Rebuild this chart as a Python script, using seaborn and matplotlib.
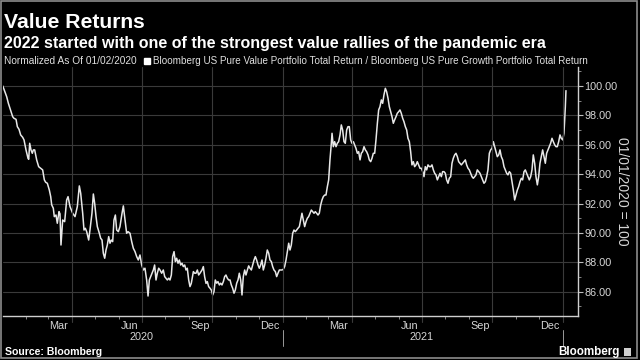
import pandas as pd
import matplotlib
matplotlib.use("Agg")
import matplotlib.pyplot as plt
import matplotlib.dates as mdates
from matplotlib.ticker import FormatStrFormatter, MultipleLocator
from matplotlib.lines import Line2D
from matplotlib.patches import Rectangle
from matplotlib import font_manager
import seaborn as sns

# value / growth total return ratio
# days = days after 01/01/2020
days_q1_2020 = [1, 6.1, 8.3, 10.4, 12.6, 13.9, 15.6, 18.3, 20.0, 22.2,
                24.3, 26.9, 28.7, 31.3, 33.9, 34.8, 36.1, 37.8, 39.5, 40.9,
                42.6, 43.9, 45.2, 47.8, 50.4, 53.0, 55.2, 56.9, 59.1, 61.7,
                63.5, 64.8, 66.9, 68.2, 70.4, 72.1, 74.3]
ratio_q1_2020 = [100.00, 99.27, 98.82, 98.48, 98.14, 97.91, 97.80, 97.73, 97.23, 97.05,
                 96.67, 96.51, 96.33, 95.65, 95.08, 95.01, 96.10, 95.65, 95.42, 95.65,
                 95.65, 95.31, 94.97, 94.51, 94.40, 94.29, 93.61, 93.45, 93.38, 92.92,
                 92.47, 91.91, 91.68, 91.11, 91.22, 90.66, 91.45]

days_mid_2020 = [75.6, 76.9, 79.1, 81.7, 84.3, 86.1, 88.7, 92.1, 95.2, 98.2,
                 100.8, 102.6, 105.2, 106.9, 108.6, 110.4, 113.0, 114.7, 117.3, 119.1,
                 120.8, 122.6, 124.3, 126.9, 128.6, 130.4, 132.1, 133.9, 135.6, 137.3,
                 139.1, 140.8, 142.5, 144.3, 146.0, 147.8, 149.5, 151.7, 153.8, 156.5,
                 158.2, 159.9, 162.5, 164.3, 166.9, 169.1, 171.2, 173.4, 175.6, 177.7,
                 179.9, 182.1, 184.3, 186.4, 188.6, 190.4, 192.1, 193.8, 195.6, 197.3,
                 199.0, 200.8, 202.5, 204.3, 206.0, 208.2, 210.3, 212.1, 213.8, 215.6,
                 217.3, 219.0, 220.8, 222.5, 224.3, 226.0, 227.7, 229.5, 231.2, 233.0,
                 234.7, 236.4, 238.2, 239.9, 241.6, 243.4, 245.1, 246.8, 249.5, 251.2,
                 252.9, 254.7, 256.4, 258.1, 260.8, 262.5, 264.2, 266.0, 267.7, 269.4]
ratio_mid_2020 = [91.30, 89.18, 90.88, 90.77, 92.24, 92.47, 91.79, 91.34, 91.11, 91.79,
                  93.20, 92.70, 91.34, 90.20, 90.32, 90.09, 89.52, 90.20, 91.34, 92.65,
                  92.02, 91.11, 90.43, 89.98, 89.64, 89.52, 88.62, 88.28, 88.84, 89.18,
                  89.75, 89.30, 89.52, 89.41, 90.88, 91.22, 90.20, 90.09, 90.43, 91.34,
                  91.84, 91.11, 89.98, 90.09, 89.98, 89.41, 88.96, 88.73, 88.39, 88.16,
                  88.50, 87.82, 87.48, 87.60, 86.80, 85.71, 86.80, 87.03, 87.26, 87.48,
                  87.82, 86.80, 87.26, 87.60, 87.48, 87.26, 87.48, 87.03, 86.92, 86.80,
                  86.92, 86.80, 87.14, 88.39, 88.73, 88.05, 88.28, 87.94, 88.16, 87.82,
                  87.94, 87.71, 87.82, 87.48, 87.60, 86.80, 86.35, 86.57, 87.37, 87.26,
                  87.26, 87.48, 87.14, 87.26, 87.48, 87.71, 87.03, 86.57, 86.69, 86.35]

days_turn = [271.2, 272.9, 274.7, 276.4, 278.1, 279.9, 281.6, 283.4, 285.1, 286.8,
             288.6, 290.3, 292.0, 293.8, 295.5, 297.3, 299.0, 300.7, 302.5, 304.2,
             306.0, 307.7, 309.4, 311.2, 312.9, 314.6, 316.4, 318.1, 319.9, 321.6,
             323.3, 325.1, 326.8, 328.6, 330.3, 332.0, 333.8, 335.5, 337.2, 339.0,
             340.7, 342.5, 344.2, 345.9, 347.7, 349.4, 351.2, 352.9, 354.6, 356.4,
             358.1, 359.8, 361.6, 363.3, 365.1, 366.8, 368.5, 370.3, 372.0, 373.8,
             375.5, 377.2, 379.0, 380.7, 382.4, 384.2, 385.9, 387.7, 389.4, 391.1,
             392.9, 394.6, 396.4, 398.1, 399.8, 401.6, 403.3, 405.0, 406.8, 408.5,
             410.3, 412.0, 413.7, 415.5, 417.2, 418.9, 420.7, 422.4, 424.2, 425.9]
ratio_turn = [86.24, 86.12, 85.78, 86.01, 86.80, 86.58, 86.69, 86.46, 86.58, 86.46,
              86.69, 87.03, 87.14, 86.92, 86.80, 86.80, 86.46, 86.24, 85.90, 86.12,
              86.58, 86.80, 87.26, 86.80, 85.78, 87.03, 87.48, 87.14, 87.48, 87.76,
              87.60, 87.48, 87.82, 88.16, 88.39, 88.16, 87.82, 87.60, 87.82, 88.16,
              87.48, 87.82, 88.28, 88.84, 88.62, 88.16, 88.05, 87.71, 87.48, 87.37,
              87.03, 87.26, 87.48, 87.48, 87.48, 87.53, 87.71, 88.16, 88.73, 89.30,
              88.84, 89.18, 89.98, 90.20, 90.09, 90.20, 90.32, 90.43, 90.88, 91.34,
              90.88, 90.43, 90.77, 91.00, 91.11, 91.34, 91.56, 91.45, 91.34, 91.45,
              91.34, 91.22, 91.34, 91.90, 92.24, 92.47, 92.58, 92.58, 93.15, 93.61]

days_h1_2021 = [427.6, 429.4, 430.3, 432.0, 433.7, 435.5, 437.2, 438.9, 440.7, 442.4,
                444.1, 445.9, 447.6, 449.4, 451.1, 452.8, 454.6, 456.3, 458.1, 459.8,
                461.5, 463.3, 465.0, 466.8, 468.5, 470.2, 472.0, 473.7, 475.4, 477.2,
                478.9, 480.7, 482.4, 484.1, 485.9, 487.6, 489.4, 491.1, 492.8, 494.6,
                496.3, 498.0, 499.8, 501.5, 503.3, 505.0, 506.7, 508.5, 510.2, 511.9,
                513.7, 515.4, 517.2, 518.9, 520.6, 522.4, 524.1, 525.9, 527.6, 529.3,
                531.1, 532.8, 534.5, 536.3, 538.0, 539.8, 541.5, 543.2, 545.0, 546.7,
                548.5, 550.2, 551.9, 553.7, 555.4, 557.2]
ratio_h1_2021 = [94.97, 96.10, 96.78, 95.87, 96.21, 95.87, 96.10, 96.21, 96.67, 97.35,
                 97.01, 96.21, 96.10, 97.01, 97.23, 97.23, 96.33, 96.10, 96.21, 95.99,
                 95.76, 95.42, 95.53, 94.97, 95.42, 95.53, 95.87, 95.65, 95.53, 95.31,
                 94.97, 94.85, 95.08, 95.42, 95.42, 96.33, 97.46, 98.37, 98.59, 99.05,
                 98.82, 99.39, 99.84, 99.61, 99.16, 98.59, 98.25, 97.91, 97.46, 97.69,
                 97.91, 98.14, 98.25, 98.37, 98.14, 97.80, 97.57, 97.23, 97.01, 96.44,
                 96.21, 95.53, 94.63, 94.85, 94.51, 94.63, 94.85, 94.63, 94.40, 94.40,
                 94.17, 93.83, 94.51, 94.29, 94.63, 94.51]

days_h2_2021 = [558.9, 560.6, 562.4, 564.1, 565.8, 567.6, 569.3, 571.1, 572.8, 574.5,
                576.3, 578.0, 579.7, 581.5, 583.2, 585.0, 586.7, 588.4, 590.2, 591.9,
                593.7, 595.4, 597.1, 598.9, 600.6, 602.3, 604.1, 605.8, 607.6, 609.3,
                611.0, 612.8, 614.5, 616.3, 618.0, 619.7, 621.5, 623.2, 625.0, 626.7,
                628.4, 630.2, 631.9, 633.6, 635.4, 637.1, 638.9, 640.6, 642.3, 644.1,
                645.8, 647.6, 649.3, 651.0, 652.8, 654.5, 656.2, 658.0, 659.7, 661.5,
                663.2, 664.9, 666.7, 668.4, 670.1, 671.9, 673.6, 675.4, 677.1, 678.8,
                680.6, 682.3, 684.1, 685.8, 687.5, 689.3, 691.0, 692.7, 694.5, 696.2,
                698.0, 699.7, 701.4, 703.2, 704.9, 706.7, 708.4, 710.1, 711.9, 713.6,
                715.3, 717.1, 718.8, 720.6, 722.3, 724.0, 725.8, 727.5, 729.2, 731.1,
                732.7, 734.5, 735.3]
ratio_h2_2021 = [94.51, 94.63, 94.29, 94.06, 93.95, 93.61, 93.83, 94.06, 93.83, 94.17,
                 94.17, 94.06, 93.61, 93.38, 93.72, 93.83, 94.74, 95.08, 95.31, 95.42,
                 95.19, 94.85, 94.74, 94.63, 94.74, 94.85, 94.97, 94.63, 94.40, 94.29,
                 94.06, 93.83, 93.72, 93.83, 93.95, 94.29, 94.17, 94.06, 93.83, 93.61,
                 93.38, 93.49, 93.83, 94.29, 95.42, 95.65, 95.76, 96.21, 95.87, 95.53,
                 95.19, 95.31, 95.65, 95.19, 94.97, 94.51, 94.29, 94.06, 93.95, 94.17,
                 94.06, 93.49, 92.92, 92.24, 92.58, 92.92, 93.15, 93.49, 93.72, 93.61,
                 94.17, 94.29, 94.06, 93.83, 93.61, 93.83, 94.29, 95.31, 94.74, 93.83,
                 93.27, 93.83, 94.74, 95.19, 95.65, 95.19, 94.74, 95.42, 95.65, 95.87,
                 96.10, 96.44, 96.21, 95.99, 95.87, 95.87, 96.21, 96.67, 96.44, 96.33,
                 96.78, 98.59, 99.68]

y_ticks = [86, 88, 90, 92, 94, 96, 98, 100]
years = ["2020", "2021"]
title = "Value Returns"
subtitle = "2022 started with one of the strongest value rallies of the pandemic era"
note = "Normalized As Of 01/02/2020"
series_name = ("Bloomberg US Pure Value Portfolio Total Return / "
               "Bloomberg US Pure Growth Portfolio Total Return")

days = days_q1_2020 + days_mid_2020 + days_turn + days_h1_2021 + days_h2_2021
ratio = ratio_q1_2020 + ratio_mid_2020 + ratio_turn + ratio_h1_2021 + ratio_h2_2021
assert len(days) == len(ratio)

start = pd.Timestamp("2020-01-01")
df = pd.DataFrame({"date": start + pd.to_timedelta(days, unit="D"), "ratio": ratio})

sns.set_theme(style="dark", rc={"axes.facecolor": "black", "figure.facecolor": "black",
                                "savefig.facecolor": "black", "text.color": "white"})
installed = {f.name for f in font_manager.fontManager.ttflist}
narrow = "Liberation Sans Narrow" if "Liberation Sans Narrow" in installed else "Liberation Sans"
plt.rcParams["font.family"] = ["Liberation Sans", "DejaVu Sans"]

fig = plt.figure(figsize=(6.4, 3.6), dpi=100)
W, H = 640, 360
ax = fig.add_axes([3 / W, 1 - 316 / H, 575 / W, 249 / H])

sns.lineplot(data=df, x="date", y="ratio", ax=ax, color="#e8e8e8", lw=1.1, label=series_name)

ax.set_xlim(start + pd.Timedelta(days=1.3), start + pd.Timedelta(days=751))
ax.set_ylim(84.35, 101.29)

# y axis on the right
ax.yaxis.tick_right()
ax.set_yticks(y_ticks)
ax.yaxis.set_major_formatter(FormatStrFormatter("%.2f"))
ax.yaxis.set_minor_locator(MultipleLocator(1))
ax.tick_params(axis="y", which="major", length=3.5, width=0.8, color="#bdbdbd",
               labelcolor="#d6d6d6", labelsize=7.8, pad=1.2, right=True, left=False)
ax.tick_params(axis="y", which="minor", length=2, width=0.6, color="#9a9a9a", right=True, left=False)
ax.set_ylabel("01/01/2020 = 100", rotation=270, color="#d6d6d6", fontsize=10, va="center", ha="center")
ax.yaxis.set_label_position("right")
ax.yaxis.set_label_coords((629 - 3) / 575, (316 - 191) / 249)

# x axis: month names mid-month, monthly ticks
ax.xaxis.set_major_locator(mdates.MonthLocator(bymonth=[3, 6, 9, 12], bymonthday=15))
ax.xaxis.set_major_formatter(mdates.DateFormatter("%b"))
ax.xaxis.set_minor_locator(mdates.MonthLocator())
ax.tick_params(axis="x", which="major", length=0, labelcolor="#d6d6d6", labelsize=7.8, pad=3.5)
ax.tick_params(axis="x", which="minor", length=2.5, width=0.6, color="#9a9a9a", bottom=True)
ax.set_xlabel("")

grid_color = "#3a3a3a"
ax.grid(False)
ax.grid(axis="y", which="major", color=grid_color, lw=0.8, ls="-")
for q in pd.date_range("2020-04-01", "2022-01-01", freq="QS"):
    ax.axvline(q, ymin=-0.025, ymax=1, color=grid_color, lw=0.8, clip_on=False)

for s in ["top", "left"]:
    ax.spines[s].set_visible(False)
for s in ["bottom", "right"]:
    ax.spines[s].set_visible(True)
    ax.spines[s].set_color("#cfcfcf")
    ax.spines[s].set_linewidth(1)

# year labels and separators under the month names
trans = ax.get_xaxis_transform()
for y in years:
    ax.text(pd.Timestamp(f"{y}-07-01"), -0.085, y, transform=trans, ha="center", va="center",
            color="#d6d6d6", fontsize=7.8)
    sep = pd.Timestamp(f"{int(y) + 1}-01-01")
    ax.plot([sep, sep], [-0.055, -0.12], transform=trans, color="#9a9a9a", lw=0.7, clip_on=False)

# header
fig.text(4 / W, 1 - 28 / H, title, fontsize=15.2, fontweight="bold", color="white", va="baseline")
fig.text(4 / W, 1 - 48 / H, subtitle, fontsize=11.5, fontweight="bold", color="white", va="baseline")
fig.text(4 / W, 1 - 61.5 / H, note, fontsize=7.3, color="#e0e0e0", va="center", family=[narrow, "DejaVu Sans"])
handle = Line2D([0], [0], marker="s", ls="none", color="white", markersize=4)
ax.legend([handle], [series_name], loc="center left", bbox_to_anchor=(145 / W, 1 - 61.5 / H),
          bbox_transform=fig.transFigure, frameon=False, handlelength=0.5, handletextpad=0.3,
          borderpad=0, borderaxespad=0, labelcolor="#e0e0e0",
          prop={"family": [narrow, "DejaVu Sans"], "size": 7.15})

# footer
fig.text(5 / W, 1 - 352 / H, "Source: Bloomberg", fontsize=7.6, fontweight="bold", color="white", va="center")
fig.text(620 / W, 1 - 351.5 / H, "Bloomberg", fontsize=8.4, fontweight="bold", color="white",
         va="center", ha="right")
fig.add_artist(Rectangle((624 / W, 1 - 356 / H), 7 / W, 8 / H, transform=fig.transFigure,
                         facecolor="#cfcfcf", edgecolor="none"))
fig.add_artist(Rectangle((1 / W, 1.7 / H), 635.5 / W, 357 / H, transform=fig.transFigure,
                         fill=False, edgecolor="#8c8c8c", lw=1.2))

fig.savefig("out.png", dpi=100, facecolor="black")
